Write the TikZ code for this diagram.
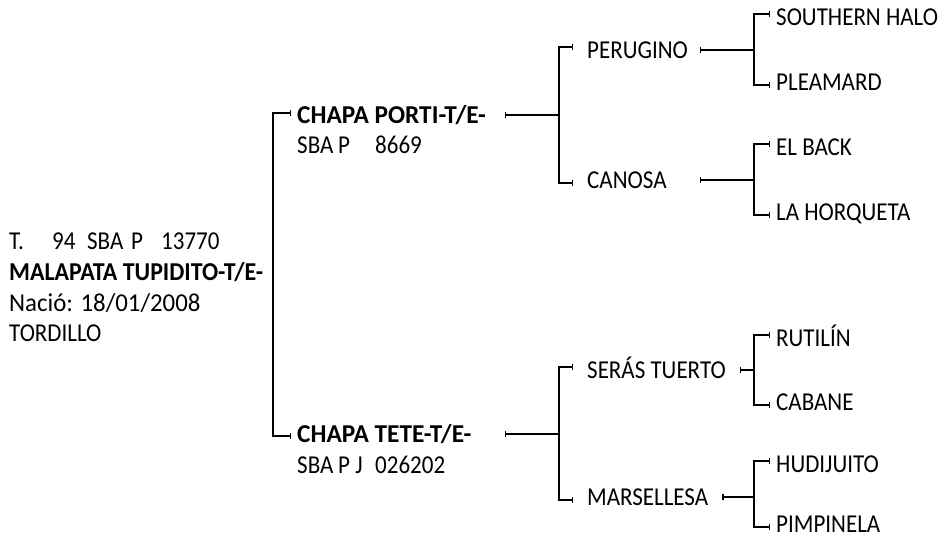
\documentclass[tikz,border=0pt]{standalone}
\usepackage{fontspec}
\usepackage{graphicx}
\setmainfont{Carlito}
\usetikzlibrary{arrows.meta,calc}
\newcommand\fsz{\fontsize{23}{28}\selectfont}
\newcommand\sq[1]{\scalebox{1}[1.12]{#1}}
\newcommand\sqb[2][1.08]{\scalebox{#1}[1.12]{\bfseries #2}}
\begin{document}
\begin{tikzpicture}[x=1pt,y=-1pt,
  lbl/.style={anchor=west,inner sep=0pt,text height=16.6pt,text depth=0pt,font=\fsz},
  conn/.style={line width=1.3pt},
  bb/.style={{Bar[width=6pt]}-{Bar[width=6pt]}},
  sb/.style={{Bar[width=6pt]}-}]
\path[use as bounding box] (0,0) rectangle (943,538);
% root
\node[lbl] (r1) at (9,241) {\sq{\makebox[43pt][l]{T.}\makebox[35pt][l]{94}\makebox[44pt][l]{SBA}\makebox[30pt][l]{P}13770}};
\node[lbl] (r2) at (9,272) {\sqb[1.04]{MALAPATA TUPIDITO-T/E-}};
\node[lbl] (r3) at (9,303) {\scalebox{1.08}[1.12]{Nació: 18/01/2008}};
\node[lbl] (r4) at (9,333) {\sq{TORDILLO}};
% sire / dam
\node[lbl] (s) at (297,115) {\sqb[1.1]{CHAPA PORTI-T/E-}};
\node[lbl] (s2) at (297,145) {\sq{\makebox[41pt][l]{SBA}\makebox[37pt][l]{P}8669}};
\node[lbl] (d) at (297,434) {\sqb[1.1]{CHAPA TETE-T/E-}};
\node[lbl] (d2) at (297,465) {\sq{\makebox[41pt][l]{SBA}\makebox[37pt][l]{P J}026202}};
% parents
\node[lbl] (per) at (587,50) {\sq{PERUGINO}};
\node[lbl] (can) at (587,180) {\sq{CANOSA}};
\node[lbl] (ser) at (587,370) {\sq{SERÁS TUERTO}};
\node[lbl] (mar) at (587,497) {\sq{MARSELLESA}};
% grandparents
\node[lbl] (sh) at (776,17) {\sq{SOUTHERN HALO}};
\node[lbl] (pl) at (776,82) {\sq{PLEAMARD}};
\node[lbl] (eb) at (776,147) {\sq{EL BACK}};
\node[lbl] (lh) at (776,212) {\sq{LA HORQUETA}};
\node[lbl] (ru) at (776,338) {\sq{RUTILÍN}};
\node[lbl] (cb) at (776,402) {\sq{CABANE}};
\node[lbl] (hu) at (776,464) {\sq{HUDIJUITO}};
\node[lbl] (pi) at (776,524) {\sq{PIMPINELA}};
% x positions
\coordinate (xa) at (505,0);
\coordinate (xb) at (559,0);
\coordinate (xc) at (700,0);
\coordinate (xd) at (754,0);
% brackets
\draw[conn,bb] ($(s.west)+(-6,-2)$) -- ++(-18,0) |- ($(d.west)+(-6,2)$);
\draw[conn,bb] ($(per.west)+(-14,-3)$) -- ++(-14,0) |- ($(can.west)+(-14,3)$);
\draw[conn,bb] ($(ser.west)+(-14,-3)$) -- ++(-14,0) |- ($(mar.west)+(-14,3)$);
\draw[conn,bb] ($(sh.west)+(-6,-3)$) -- ++(-16,0) |- ($(pl.west)+(-6,3)$);
\draw[conn,bb] ($(eb.west)+(-6,-3)$) -- ++(-16,0) |- ($(lh.west)+(-6,3)$);
\draw[conn,bb] ($(ru.west)+(-6,-3)$) -- ++(-16,0) |- ($(cb.west)+(-6,3)$);
\draw[conn,bb] ($(hu.west)+(-6,-3)$) -- ++(-16,0) |- ($(pi.west)+(-6,3)$);
% feeders
\draw[conn,sb] (s.west -| xa) -- (s.west -| xb);
\draw[conn,sb] (d.west -| xa) -- (d.west -| xb);
\draw[conn,sb] (per.west -| xc) -- (per.west -| xd);
\draw[conn,sb] (can.west -| xc) -- (can.west -| xd);
\draw[conn,sb] ($(ser.east)+(14,0)$) -- (ser.west -| xd);
\draw[conn,sb] ($(mar.east)+(14,0)$) -- (mar.west -| xd);
\end{tikzpicture}
\end{document}
